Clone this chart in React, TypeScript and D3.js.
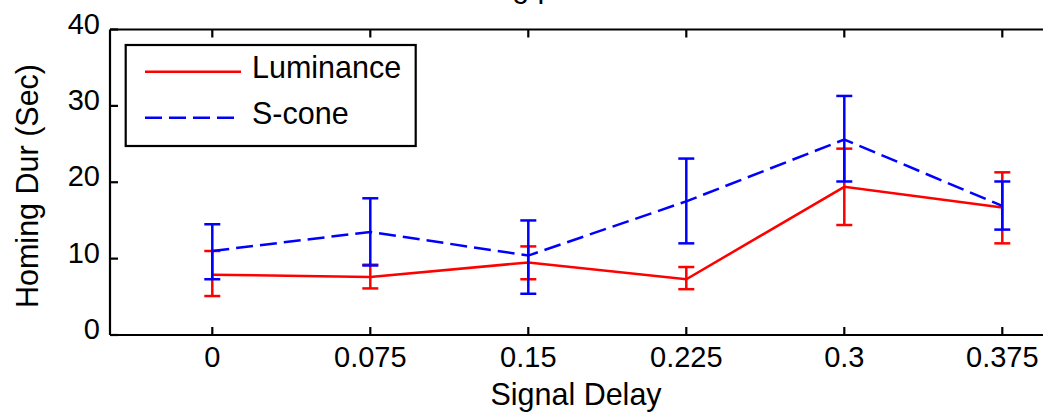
import React from "react";
import * as d3 from "d3";

const delays = [0, 0.075, 0.15, 0.225, 0.3, 0.375];
const xTickLabels = ["0", "0.075", "0.15", "0.225", "0.3", "0.375"];
const yTicks = [0, 10, 20, 30, 40];

const lumMean = [7.9, 7.6, 9.5, 7.3, 19.4, 16.7];
const lumUpper = [11.0, 9.2, 11.6, 8.9, 24.4, 21.3];
const lumLower = [5.1, 6.1, 7.3, 6.0, 14.4, 12.0];

const sconeMean = [11.0, 13.5, 10.4, 17.5, 25.6, 16.9];
const sconeUpper = [14.5, 17.9, 15.0, 23.1, 31.3, 20.1];
const sconeLower = [7.3, 9.1, 5.4, 12.0, 20.1, 13.8];

const W = 1043;
const H = 414;
const FONT = "Liberation Sans, Arial, sans-serif";
const FS = 30.5;
const TFS = 29;

export default function App() {
  const x = d3.scaleLinear().domain([0, 0.375]).range([212.3, 1002.3]);
  const y = d3.scaleLinear().domain([0, 40]).range([335, 29.5]);
  const left = 110;
  const right = 1060;
  const top = y(40);
  const bottom = y(0);
  const tickLen = 8;
  const cap = 8;

  const line = d3
    .line<number>()
    .x((_, i) => x(delays[i]))
    .y((d) => y(d));

  const series = [
    { name: "Luminance", mean: lumMean, up: lumUpper, lo: lumLower, color: "#ff0000", dash: undefined as string | undefined },
    { name: "S-cone", mean: sconeMean, up: sconeUpper, lo: sconeLower, color: "#0000ff", dash: "17 7" },
  ];

  return (
    <svg
      width={W}
      height={H}
      style={{ position: "absolute", left: 0, top: 0, background: "#fff" }}
      fontFamily={FONT}
    >
      <rect x={0} y={0} width={W} height={H} fill="#fff" />
      {/* title (mostly cut off in the reference) */}
      <text x={424} y={-3} fontSize={FS} fill="#000">
        Homing performance
      </text>

      {/* series */}
      {series.map((s) => (
        <g key={s.name}>
          <path d={line(s.mean) || ""} fill="none" stroke={s.color} strokeWidth={2.5} strokeDasharray={s.dash} />
          {delays.map((d, i) => (
            <g key={i} stroke={s.color} strokeWidth={2.5}>
              <line x1={x(d)} x2={x(d)} y1={y(s.up[i])} y2={y(s.lo[i])} />
              <line x1={x(d) - cap} x2={x(d) + cap} y1={y(s.up[i])} y2={y(s.up[i])} />
              <line x1={x(d) - cap} x2={x(d) + cap} y1={y(s.lo[i])} y2={y(s.lo[i])} />
            </g>
          ))}
        </g>
      ))}

      {/* axes box */}
      <g stroke="#000" strokeWidth={2.2} fill="none">
        <line x1={left} x2={right} y1={bottom} y2={bottom} />
        <line x1={left} x2={right} y1={top} y2={top} />
        <line x1={left} x2={left} y1={top} y2={bottom} />
        {delays.map((d, i) => (
          <g key={i}>
            <line x1={x(d)} x2={x(d)} y1={bottom} y2={bottom - tickLen} />
            <line x1={x(d)} x2={x(d)} y1={top} y2={top + tickLen} />
          </g>
        ))}
        {yTicks.map((t) => (
          <line key={t} x1={left} x2={left + tickLen} y1={y(t)} y2={y(t)} />
        ))}
      </g>

      {/* tick labels */}
      {yTicks.map((t) => (
        <text key={t} x={100} y={y(t) + 4} fontSize={TFS} textAnchor="end" fill="#000">
          {t}
        </text>
      ))}
      {delays.map((d, i) => (
        <text key={i} x={x(d)} y={367} fontSize={TFS} textAnchor="middle" fill="#000">
          {xTickLabels[i]}
        </text>
      ))}

      {/* axis labels */}
      <text x={576} y={405} fontSize={FS} textAnchor="middle" fill="#000">
        Signal Delay
      </text>
      <text
        transform={`translate(38, ${(65 + 307) / 2}) rotate(-90)`}
        fontSize={FS}
        textAnchor="middle"
        fill="#000"
      >
        Homing Dur (Sec)
      </text>

      {/* legend */}
      <rect x={125.7} y={45} width={290} height={101} fill="#fff" stroke="#000" strokeWidth={2.2} />
      <line x1={145} x2={241} y1={71.7} y2={71.7} stroke="#ff0000" strokeWidth={2.5} />
      <line x1={145} x2={236} y1={117.7} y2={117.7} stroke="#0000ff" strokeWidth={2.5} strokeDasharray="17 7" />
      <text x={252} y={78} fontSize={FS} fill="#000">
        Luminance
      </text>
      <text x={252} y={124} fontSize={FS} fill="#000">
        S-cone
      </text>
    </svg>
  );
}
